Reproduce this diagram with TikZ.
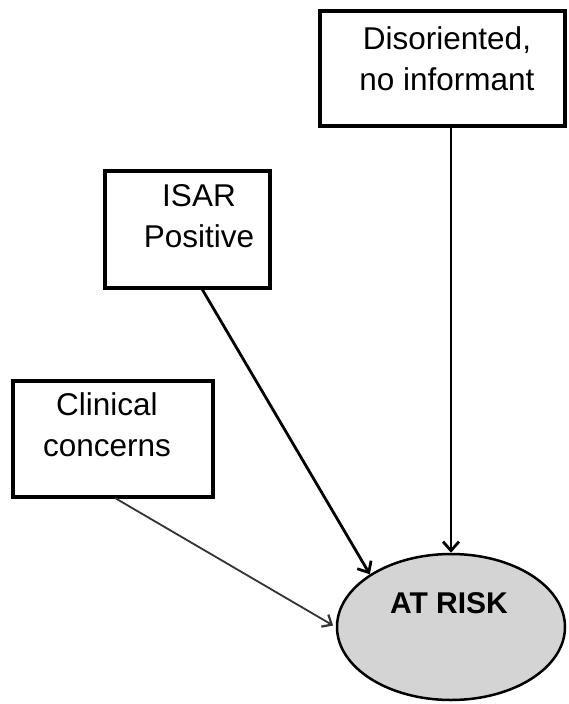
\documentclass[tikz,border=0pt]{standalone}
\usepackage{fontspec}
\setmainfont{Liberation Sans}
\usetikzlibrary{arrows.meta,shapes.geometric}
\definecolor{riskgray}{HTML}{D4D4D4}
\tikzset{
  boxnode/.style={draw=black, line width=3.5pt, fill=white, inner sep=0pt},
  txt/.style={font=\fontsize{31.5}{41}\selectfont, align=center, inner sep=0pt, anchor=north},
  conn/.style={line width=2.8pt, -{Straight Barb[length=9pt,width=16pt,line width=2.8pt]}},
  thinconn/.style={line width=1.8pt, black!80, -{Straight Barb[length=8pt,width=14pt,line width=2.2pt]}}
}
\begin{document}
\begin{tikzpicture}[x=1pt,y=-1pt]
\useasboundingbox (0,0) rectangle (568,704);
% boxes
\node[boxnode, minimum width=245pt, minimum height=115pt] (d) at (442.5,68.5) {};
\node[boxnode, minimum width=165pt, minimum height=117pt] (i) at (187.5,229.5) {};
\node[boxnode, minimum width=200pt, minimum height=116pt] (c) at (113,439) {};
% texts
\node[txt] (dt) at (447,26) {Disoriented,\\no informant};
\node[txt] (it) at (199,184) {ISAR\\Positive};
\node[txt] (ct) at (107,392) {Clinical\\concerns};
% ellipse
\node[ellipse, draw=black, line width=2.5pt, fill=riskgray, minimum width=228pt, minimum height=146pt, inner sep=0pt] (e) at (451,627) {};
\node[font=\bfseries\fontsize{30}{34}\selectfont, inner sep=0pt, anchor=base] (et) at (449,613) {AT RISK};
% connectors
\coordinate (ds) at (d.south -| e.north);
\coordinate (is) at (202,289);
\coordinate (cs) at (115,498);
\draw[conn] (ds) -- (e.north);
\draw[conn] (is) -- (e.147);
\draw[thinconn, shorten >=3pt] (cs) -- (e.west);
\end{tikzpicture}
\end{document}
